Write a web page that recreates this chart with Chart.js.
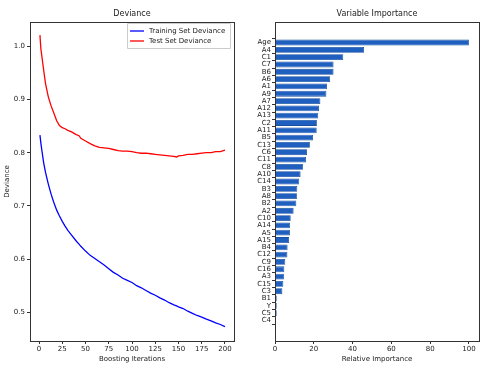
<!DOCTYPE html>
<html>
<head>
<meta charset="utf-8">
<script src="https://cdn.jsdelivr.net/npm/chart.js@4/dist/chart.umd.min.js"></script>
<style>
body { margin: 0; background: #fff; width: 500px; height: 374px; overflow: hidden; position: relative; }
canvas { position: absolute; top: 0; }
#deviance { left: 0; }
#importance { left: 250px; }
</style>
</head>
<body>
<canvas id="deviance" width="250" height="374"></canvas>
<canvas id="importance" width="250" height="374"></canvas>
<script>
// deviance per boosting iteration
var iterations = [1, 2, 3, 5, 7, 10, 13, 16, 19, 22, 25, 28, 31, 35, 40, 43, 45, 50, 55, 60, 65, 70, 75, 80, 85, 90, 95, 100,
    105, 110, 115, 120, 125, 130, 135, 140, 145, 148, 150, 155, 160, 165, 170, 175, 180, 185, 190, 195, 200];
var trainDeviance = [0.833, 0.818, 0.805, 0.781, 0.763, 0.741, 0.722, 0.706, 0.692, 0.681, 0.671, 0.662, 0.654, 0.645, 0.634,
    0.628, 0.624, 0.615, 0.607, 0.601, 0.595, 0.589, 0.582, 0.575, 0.570, 0.564, 0.560, 0.556, 0.550, 0.546, 0.541, 0.536,
    0.532, 0.527, 0.523, 0.518, 0.514, 0.512, 0.510, 0.507, 0.502, 0.498, 0.494, 0.491, 0.487, 0.484, 0.480, 0.477, 0.473];
var testDeviance = [1.021, 0.995, 0.982, 0.955, 0.930, 0.905, 0.888, 0.874, 0.860, 0.851, 0.847, 0.845, 0.842, 0.839, 0.834,
    0.832, 0.827, 0.822, 0.817, 0.813, 0.810, 0.809, 0.808, 0.806, 0.804, 0.803, 0.803, 0.802, 0.800, 0.799, 0.799, 0.798,
    0.797, 0.796, 0.795, 0.794, 0.793, 0.792, 0.794, 0.795, 0.797, 0.797, 0.798, 0.799, 0.800, 0.800, 0.802, 0.802, 0.805];
var iterTicks = [0, 25, 50, 75, 100, 125, 150, 175, 200];
var devianceTicks = [0.5, 0.6, 0.7, 0.8, 0.9, 1.0];

// variable importance, top to bottom
var features = ['Age', 'A4', 'C1', 'C7', 'B6', 'A6', 'A1', 'A9', 'A7', 'A12', 'A13', 'C2', 'A11', 'B5', 'C13', 'C6', 'C11',
    'C8', 'A10', 'C14', 'B3', 'A8', 'B2', 'A2', 'C10', 'A14', 'A5', 'A15', 'B4', 'C12', 'C9', 'C16', 'A3', 'C15', 'C3',
    'B1', 'Y', 'C5', 'C4'];
var importance = [100, 45.9, 35.2, 30.2, 30.2, 28.4, 26.8, 26.5, 23.4, 22.7, 22.3, 21.6, 21.5, 19.6, 18.0, 16.5, 16.0,
    14.4, 13.2, 12.5, 11.5, 11.3, 11.0, 9.6, 8.1, 7.7, 7.7, 7.2, 6.5, 6.4, 5.3, 4.8, 4.6, 4.3, 3.8, 0.9, 0.9, 0.9, 0.2];
var importanceTicks = [0, 20, 40, 60, 80, 100];

Chart.defaults.font.family = "'DejaVu Sans', sans-serif";
Chart.defaults.font.size = 7;
Chart.defaults.color = '#222';

var ink = '#333';

// matplotlib style box round the plot
var framePlugin = {
    id: 'frame',
    afterDatasetsDraw: function (chart) {
        var a = chart.chartArea;
        var ctx = chart.ctx;
        ctx.save();
        ctx.strokeStyle = ink;
        ctx.lineWidth = 1;
        ctx.strokeRect(Math.round(a.left) + 0.5, Math.round(a.top) + 0.5,
            Math.round(a.right - a.left), Math.round(a.bottom - a.top));
        ctx.restore();
    }
};

// legend box in upper right corner
var boxLegendPlugin = {
    id: 'boxLegend',
    afterDraw: function (chart) {
        var ctx = chart.ctx;
        var a = chart.chartArea;
        var sets = chart.data.datasets;
        var w = 103, h = 25;
        var x = a.right - w - 4, y = a.top + 1;
        ctx.save();
        ctx.fillStyle = 'rgba(255,255,255,0.85)';
        ctx.strokeStyle = '#ccc';
        ctx.lineWidth = 1;
        ctx.beginPath();
        ctx.rect(x + 0.5, y + 0.5, w, h);
        ctx.fill();
        ctx.stroke();
        ctx.font = "7px 'DejaVu Sans', sans-serif";
        ctx.textBaseline = 'middle';
        sets.forEach(function (ds, i) {
            var ly = y + 8 + i * 10;
            ctx.strokeStyle = ds.borderColor;
            ctx.lineWidth = 1.3;
            ctx.beginPath();
            ctx.moveTo(x + 3, ly);
            ctx.lineTo(x + 17, ly);
            ctx.stroke();
            ctx.fillStyle = '#222';
            ctx.fillText(ds.label, x + 22, ly);
        });
        ctx.restore();
    }
};

function tickGrid() {
    return { display: true, drawOnChartArea: false, drawTicks: true, tickLength: 3, tickColor: ink, color: ink };
}

new Chart(document.getElementById('deviance'), {
    type: 'line',
    plugins: [framePlugin, boxLegendPlugin],
    data: {
        datasets: [
            {
                label: 'Training Set Deviance',
                data: iterations.map(function (it, i) { return { x: it, y: trainDeviance[i] }; }),
                borderColor: '#0000ff',
                borderWidth: 1.3,
                pointRadius: 0,
                tension: 0
            },
            {
                label: 'Test Set Deviance',
                data: iterations.map(function (it, i) { return { x: it, y: testDeviance[i] }; }),
                borderColor: '#ff0000',
                borderWidth: 1.3,
                pointRadius: 0,
                tension: 0
            }
        ]
    },
    options: {
        responsive: false,
        animation: false,
        layout: { padding: { left: 0, right: 16, top: 0, bottom: 0 } },
        plugins: {
            legend: { display: false },
            tooltip: { enabled: false },
            title: {
                display: true,
                text: 'Deviance',
                fullSize: false,
                color: '#222',
                font: { size: 8, weight: 'normal' },
                padding: { top: 9.2, bottom: 3.2 }
            }
        },
        scales: {
            x: {
                type: 'linear',
                min: -9.7,
                max: 209.7,
                grid: tickGrid(),
                border: { display: false },
                afterBuildTicks: function (scale) {
                    scale.ticks = iterTicks.map(function (v) { return { value: v }; });
                },
                afterFit: function (scale) { scale.height = 33; },
                ticks: { padding: 1, maxRotation: 0, autoSkip: false },
                title: { display: true, text: 'Boosting Iterations', font: { size: 7 }, padding: { top: 0, bottom: 10.8 } }
            },
            y: {
                type: 'linear',
                min: 0.446,
                max: 1.0457,
                grid: tickGrid(),
                border: { display: false },
                afterBuildTicks: function (scale) {
                    scale.ticks = devianceTicks.map(function (v) { return { value: v }; });
                },
                afterFit: function (scale) { scale.width = 30; },
                ticks: {
                    padding: 2,
                    autoSkip: false,
                    callback: function (v) { return v.toFixed(1); }
                },
                title: { display: true, text: 'Deviance', font: { size: 7 }, padding: { top: 2.8, bottom: 0 } }
            }
        }
    }
});

new Chart(document.getElementById('importance'), {
    type: 'bar',
    plugins: [framePlugin],
    data: {
        datasets: [
            {
                label: 'Relative Importance',
                data: importance.map(function (v, i) { return { x: v, y: i }; }),
                backgroundColor: '#1f5fc0',
                borderColor: '#194f9f',
                borderWidth: 0.8,
                barPercentage: 0.8,
                categoryPercentage: 1
            }
        ]
    },
    options: {
        indexAxis: 'y',
        responsive: false,
        animation: false,
        layout: { padding: { left: 0, right: 21, top: 0, bottom: 0 } },
        plugins: {
            legend: { display: false },
            tooltip: { enabled: false },
            title: {
                display: true,
                text: 'Variable Importance',
                fullSize: false,
                color: '#222',
                font: { size: 8, weight: 'normal' },
                padding: { top: 9.2, bottom: 3.2 }
            }
        },
        scales: {
            x: {
                type: 'linear',
                min: 0,
                max: 105.2,
                grid: tickGrid(),
                border: { display: false },
                afterBuildTicks: function (scale) {
                    scale.ticks = importanceTicks.map(function (v) { return { value: v }; });
                },
                afterFit: function (scale) { scale.height = 33; },
                ticks: { padding: 1, maxRotation: 0, autoSkip: false },
                title: { display: true, text: 'Relative Importance', font: { size: 7 }, padding: { top: 0, bottom: 10.8 } }
            },
            y: {
                type: 'linear',
                reverse: true,
                min: -2.25,
                max: features.length - 1 + 2.25,
                grid: tickGrid(),
                border: { display: false },
                afterBuildTicks: function (scale) {
                    scale.ticks = features.map(function (f, i) { return { value: i }; });
                },
                afterFit: function (scale) { scale.width = 25; },
                ticks: {
                    padding: 1,
                    autoSkip: false,
                    callback: function (v) { return features[v]; }
                }
            }
        }
    }
});
</script>
</body>
</html>
